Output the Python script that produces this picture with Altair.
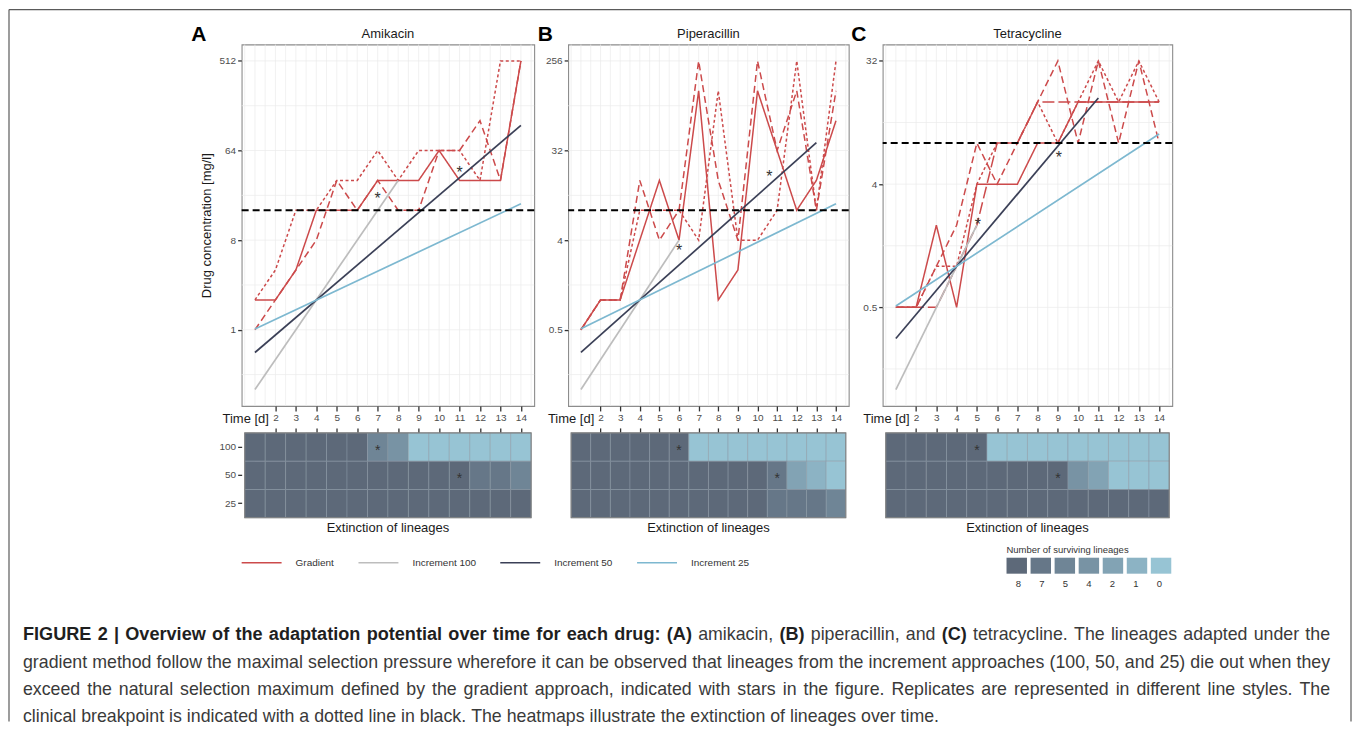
import altair as alt
import pandas as pd

FONT = "Liberation Sans"

# ---------------- data ----------------
days = list(range(1, 15))
replicates = ["r1", "r2", "r3", "r4"]
series_names = ["Gradient", "Increment 100", "Increment 50", "Increment 25"]
series_colors = ["#cc4a4b", "#bdbdbd", "#3b4057", "#7db8d0"]
lineage_levels = [8, 7, 5, 4, 2, 1, 0]
lineage_colors = ["#5d6979", "#667788", "#6f8596", "#7893a4", "#82a3b4", "#8cb3c4", "#97c4d4"]
increment_rows = ["100", "50", "25"]
tick_days = list(range(2, 15))

# A  Amikacin (mg/l per day, gradient replicates)
amik_r1 = [2, 2, 4, 16, 16, 16, 32, 32, 32, 64, 32, 32, 32, 512]
amik_r2 = [1, 2, 4, 8, 32, 16, 32, 16, 16, 64, 64, 128, 32, 512]
amik_r3 = [2, 4, 16, 16, 32, 32, 64, 32, 64, 64, 64, 32, 512, 512]
amik_inc_day = {"Increment 100": [1, 8], "Increment 50": [1, 14], "Increment 25": [1, 14]}
amik_inc_val = {"Increment 100": [0.25, 32], "Increment 50": [0.59, 115], "Increment 25": [1.02, 18.6]}
amik_breakpoint = 16
amik_star_day = [7, 11]
amik_star_val = [22.6, 42]
amik_heat_100 = [8, 8, 8, 8, 8, 8, 5, 4, 0, 0, 0, 0, 0, 0]
amik_heat_50 = [8, 8, 8, 8, 8, 8, 8, 8, 8, 8, 8, 7, 7, 5]
amik_heat_25 = [8, 8, 8, 8, 8, 8, 8, 8, 8, 8, 8, 8, 8, 8]
amik_hstar_day = [7, 11]
amik_hstar_row = ["100", "50"]

# B  Piperacillin
pip_r1 = [0.5, 1, 1, 4, 16, 4, 128, 1, 2, 128, 32, 8, 16, 64]
pip_r2 = [0.5, 1, 1, 16, 4, 8, 256, 16, 4, 256, 32, 128, 8, 128]
pip_r3 = [0.5, 1, 1, 8, 8, 8, 4, 128, 4, 4, 8, 256, 8, 256]
pip_inc_day = {"Increment 100": [1, 6], "Increment 50": [1, 13], "Increment 25": [1, 14]}
pip_inc_val = {"Increment 100": [0.125, 4], "Increment 50": [0.296, 38.4], "Increment 25": [0.512, 9.31]}
pip_breakpoint = 8
pip_star_day = [6, 10.6]
pip_star_val = [3.4, 19]
pip_heat_100 = [8, 8, 8, 8, 8, 8, 0, 0, 0, 0, 0, 0, 0, 0]
pip_heat_50 = [8, 8, 8, 8, 8, 8, 8, 8, 8, 8, 7, 2, 1, 0]
pip_heat_25 = [8, 8, 8, 8, 8, 8, 8, 8, 8, 8, 7, 7, 7, 5]
pip_hstar_day = [6, 11]
pip_hstar_row = ["100", "50"]

# C  Tetracycline
tet_r1 = [0.5, 0.5, 2, 0.5, 4, 4, 4, 8, 8, 16, 16, 16, 16, 16]
tet_r2 = [0.5, 0.5, 1, 2, 8, 4, 8, 16, 32, 8, 32, 8, 32, 8]
tet_r3 = [0.5, 0.5, 1, 1, 4, 8, 8, 16, 8, 16, 32, 16, 32, 16]
tet_r4 = [0.5, 0.5, 0.5, 1, 2, 8, 8, 16, 16, 16, 16, 16, 16, 16]
tet_inc_day = {"Increment 100": [1, 5], "Increment 50": [1, 11], "Increment 25": [1, 14]}
tet_inc_val = {"Increment 100": [0.125, 2], "Increment 50": [0.296, 17.1], "Increment 25": [0.512, 9.31]}
tet_breakpoint = 8
tet_star_day = [5.05, 9.05]
tet_star_val = [2.15, 6.6]
tet_heat_100 = [8, 8, 8, 8, 8, 0, 0, 0, 0, 0, 0, 0, 0, 0]
tet_heat_50 = [8, 8, 8, 8, 8, 8, 8, 8, 8, 4, 2, 0, 0, 0]
tet_heat_25 = [8, 8, 8, 8, 8, 8, 8, 8, 8, 8, 8, 8, 8, 8]
tet_hstar_day = [5, 9]
tet_hstar_row = ["100", "50"]

caption_l1 = [
    ("FIGURE 2 | Overview of the adaptation potential over time for each drug: (A)", True),
    ("amikacin,", False), ("(B)", True), ("piperacillin, and", False), ("(C)", True),
    ("tetracycline. The lineages adapted under the", False),
]
caption_l2 = [("gradient method follow the maximal selection pressure wherefore it can be observed "
               "that lineages from the increment approaches (100, 50, and 25) die out when they", False)]
caption_l3 = [("exceed the natural selection maximum defined by the gradient approach, indicated with "
               "stars in the figure. Replicates are represented in different line styles. The", False)]
caption_l4 = [("clinical breakpoint is indicated with a dotted line in black. The heatmaps illustrate "
               "the extinction of lineages over time.", False)]

# ---------------- helpers ----------------
dummy = pd.DataFrame({"k": [0]})
X_DOM = [0.35, 14.65]
LINE_H = 362
HEAT_H = 85

stroke_scale = alt.Scale(domain=series_names, range=series_colors)
dash_scale = alt.Scale(domain=replicates, range=[[1, 0], [7, 4], [3, 2.5], [12, 4]])
fill_scale = alt.Scale(domain=lineage_levels, range=lineage_colors)
line_legend = alt.Legend(title=None, orient="none", legendX=232, legendY=498, direction="horizontal",
                         columns=4, symbolType="stroke", symbolSize=1600, symbolStrokeWidth=1.6,
                         labelFontSize=10, labelColor="#333333", labelFont=FONT, labelOffset=13,
                         columnPadding=20)


def line_panel(reps, inc_day, inc_val, bp, sd, sv, W, lo, hi, majors, title, letter, letter_x, ytitle):
    xs = alt.Scale(domain=X_DOM, nice=False, zero=False)
    ys = alt.Scale(type="log", base=2, domain=[2 ** lo, 2 ** hi], nice=False)
    xaxis = alt.Axis(values=tick_days, title=None, grid=False, domain=False, tickSize=5, tickWidth=1.3,
                     tickColor="#333333", labelFontSize=10, labelColor="#4d4d4d", labelPadding=2,
                     labelFont=FONT, labelOverlap=False, labelFlush=False)
    yargs = dict(values=[2 ** e for e in majors], format="~g", grid=False, domain=False, tickSize=4,
                 tickWidth=1.3, tickColor="#333333", labelFontSize=10, labelColor="#4d4d4d",
                 labelPadding=2, labelFont=FONT)
    if ytitle:
        yargs.update(title=ytitle, titleFontSize=13, titleFontWeight="normal", titleColor="#1a1a1a",
                     titlePadding=6, titleFont=FONT)
    else:
        yargs.update(title=None)
    yaxis = alt.Axis(**yargs)

    vg = pd.DataFrame({"g": [0.5 * k for k in range(1, 30)]})
    hexp = majors + [e + 1.5 for e in majors] + [majors[0] - 1.5]
    hg = pd.DataFrame({"g": [2 ** e for e in hexp if lo < e < hi]})

    rows = []
    for rep, vals in zip(replicates, reps):
        for d, v in zip(days, vals):
            rows.append({"day": d, "val": v, "rep": rep, "series": "Gradient"})
    red = pd.DataFrame(rows)
    irows = []
    for s in series_names[1:]:
        for d, v in zip(inc_day[s], inc_val[s]):
            irows.append({"day": d, "val": v, "series": s})
    inc = pd.DataFrame(irows)
    stars = pd.DataFrame({"day": sd, "val": sv})

    X = alt.X("day:Q", scale=xs, axis=xaxis)
    Y = alt.Y("val:Q", scale=ys, axis=yaxis)

    layers = [
        alt.Chart(vg).mark_rule(color="#ebebeb", strokeWidth=0.7).encode(x=alt.X("g:Q", scale=xs, axis=xaxis)),
        alt.Chart(hg).mark_rule(color="#ebebeb", strokeWidth=0.7).encode(y=alt.Y("g:Q", scale=ys, axis=yaxis)),
        alt.Chart(red).mark_line(strokeWidth=1.5).encode(
            x=X, y=Y,
            stroke=alt.Stroke("series:N", scale=stroke_scale, legend=line_legend),
            strokeDash=alt.StrokeDash("rep:N", scale=dash_scale, legend=None)),
        alt.Chart(inc).mark_line(strokeWidth=1.7).encode(
            x=X, y=Y, stroke=alt.Stroke("series:N", scale=stroke_scale, legend=line_legend)),
        alt.Chart(pd.DataFrame({"bp": [bp]})).mark_rule(color="black", strokeDash=[7, 4], strokeWidth=1.9)
            .encode(y=alt.Y("bp:Q", scale=ys, axis=yaxis)),
        alt.Chart(stars).mark_text(text="*", fontSize=16, dy=4, color="#333333", font=FONT).encode(x=X, y=Y),
        alt.Chart(dummy).mark_text(text=letter, fontSize=21, fontWeight="bold", color="#000000", font=FONT,
                                   baseline="middle", align="center")
            .encode(x=alt.value(letter_x), y=alt.value(-9)),
        alt.Chart(dummy).mark_text(text=title, fontSize=13, color="#1a1a1a", font=FONT,
                                   baseline="middle", align="center")
            .encode(x=alt.value(W / 2), y=alt.value(-10)),
        alt.Chart(dummy).mark_text(text="Time [d]", fontSize=13, color="#1a1a1a", font=FONT,
                                   baseline="middle", align="right")
            .encode(x=alt.X(datum=1.68, scale=xs, axis=xaxis), y=alt.value(LINE_H + 13)),
    ]
    return alt.layer(*layers).properties(
        width=W, height=LINE_H,
        view=alt.ViewBackground(stroke="#8c8c8c", strokeWidth=1.1),
    )


def heat_panel(h100, h50, h25, hsd, hsr, W, show_y):
    xs = alt.Scale(domain=X_DOM, nice=False, zero=False)
    ysc = alt.Scale(domain=increment_rows, paddingInner=0, paddingOuter=0)
    xaxis = alt.Axis(orient="top", values=tick_days, labels=False, tickSize=5, tickWidth=1.3,
                     tickColor="#333333", domain=False, grid=False, title=None)
    if show_y:
        yaxis = alt.Axis(title=None, tickSize=4, tickWidth=1.3, tickColor="#333333", labelFontSize=10,
                         labelColor="#4d4d4d", labelPadding=2, domain=False, grid=False, labelFont=FONT)
    else:
        yaxis = None
    rows = []
    for r, vals in zip(increment_rows, [h100, h50, h25]):
        for d, n in zip(days, vals):
            rows.append({"day": d, "row": r, "n": n})
    df = pd.DataFrame(rows)
    hs = pd.DataFrame({"day": hsd, "row": hsr})
    Y = alt.Y("row:N", scale=ysc, axis=yaxis)
    cells = alt.Chart(df).transform_calculate(x0="datum.day - 0.5", x1="datum.day + 0.5").mark_rect(
        stroke="#8a97a4", strokeWidth=0.5).encode(
        x=alt.X("x0:Q", scale=xs, axis=xaxis), x2="x1:Q", y=Y,
        fill=alt.Fill("n:O", scale=fill_scale, legend=None))
    outline = alt.Chart(dummy).mark_rect(fillOpacity=0, stroke="#7f7f7f", strokeWidth=1.1).encode(
        x=alt.X(datum=0.5, scale=xs, axis=xaxis), x2=alt.X2(datum=14.5),
        y=alt.value(0), y2=alt.value(HEAT_H))
    st = alt.Chart(hs).mark_text(text="*", fontSize=14, dy=4, color="#333333", font=FONT).encode(
        x=alt.X("day:Q", scale=xs, axis=xaxis), y=Y)
    label = alt.Chart(dummy).mark_text(text="Extinction of lineages", fontSize=13, color="#1a1a1a",
                                       font=FONT, baseline="middle", align="center").encode(
        x=alt.value(W / 2), y=alt.value(HEAT_H + 10))
    return alt.layer(cells, outline, st, label).properties(width=W, height=HEAT_H)


lineA = line_panel([amik_r1, amik_r2, amik_r3], amik_inc_day, amik_inc_val, amik_breakpoint,
                   amik_star_day, amik_star_val, 293, -2.55, 9.55, [0, 3, 6, 9], "Amikacin", "A", -43,
                   "Drug concentration [mg/l]")
lineB = line_panel([pip_r1, pip_r2, pip_r3], pip_inc_day, pip_inc_val, pip_breakpoint,
                   pip_star_day, pip_star_val, 281, -3.55, 8.55, [-1, 2, 5, 8], "Piperacillin", "B", -23, None)
lineC = line_panel([tet_r1, tet_r2, tet_r3, tet_r4], tet_inc_day, tet_inc_val, tet_breakpoint,
                   tet_star_day, tet_star_val, 290, -3.4, 5.4, [-1, 2, 5], "Tetracycline", "C", -24, None)

heatA = heat_panel(amik_heat_100, amik_heat_50, amik_heat_25, amik_hstar_day, amik_hstar_row, 293, True)
heatB = heat_panel(pip_heat_100, pip_heat_50, pip_heat_25, pip_hstar_day, pip_hstar_row, 281, False)
heatC = heat_panel(tet_heat_100, tet_heat_50, tet_heat_25, tet_hstar_day, tet_hstar_row, 290, False)

SPACER_W = 199
spacer = alt.Chart(dummy).mark_point(opacity=0, size=1).encode(
    x=alt.value(100), y=alt.value(5)).properties(width=SPACER_W, height=10)

# ---------------- caption (Helvetica/Arial metrics, justified like the original) ----------------
REG = {' ': 278, '!': 278, '(': 333, ')': 333, ',': 278, '-': 333, '.': 278, ':': 278, ';': 278, '|': 260,
       'A': 667, 'B': 667, 'C': 722, 'D': 722, 'E': 667, 'F': 611, 'G': 778, 'H': 722, 'I': 278, 'J': 500,
       'K': 667, 'L': 556, 'M': 833, 'N': 722, 'O': 778, 'P': 667, 'Q': 778, 'R': 722, 'S': 667, 'T': 611,
       'U': 722, 'V': 667, 'W': 944, 'X': 667, 'Y': 667, 'Z': 611,
       'a': 556, 'b': 556, 'c': 500, 'd': 556, 'e': 556, 'f': 278, 'g': 556, 'h': 556, 'i': 222, 'j': 222,
       'k': 500, 'l': 222, 'm': 833, 'n': 556, 'o': 556, 'p': 556, 'q': 556, 'r': 333, 's': 500, 't': 278,
       'u': 556, 'v': 500, 'w': 722, 'x': 500, 'y': 500, 'z': 500}
BOLD = {' ': 278, '!': 333, '(': 333, ')': 333, ',': 278, '-': 333, '.': 278, ':': 333, ';': 333, '|': 280,
        'A': 722, 'B': 722, 'C': 722, 'D': 722, 'E': 667, 'F': 611, 'G': 778, 'H': 722, 'I': 278, 'J': 556,
        'K': 722, 'L': 611, 'M': 833, 'N': 722, 'O': 778, 'P': 667, 'Q': 778, 'R': 722, 'S': 667, 'T': 611,
        'U': 722, 'V': 667, 'W': 944, 'X': 667, 'Y': 667, 'Z': 611,
        'a': 556, 'b': 611, 'c': 556, 'd': 611, 'e': 556, 'f': 333, 'g': 611, 'h': 611, 'i': 278, 'j': 278,
        'k': 556, 'l': 278, 'm': 889, 'n': 611, 'o': 611, 'p': 611, 'q': 611, 'r': 389, 's': 556, 't': 333,
        'u': 611, 'v': 556, 'w': 778, 'x': 556, 'y': 556, 'z': 500}


def units(s, bold=False):
    t = BOLD if bold else REG
    return sum(t.get(c, 556) for c in s)


CAP_FS = min(18.0, 1305.0 / (units(caption_l2[0][0]) / 1000.0))
BOLD_FS = CAP_FS * 1.02
# the bottom panel (legends, caption, frame) is drawn from the origin of the first cell of
# the heatmap row, which sits at screen (8, 432)
OX, OY = 8, 432


def lx(screen_x):
    return screen_x - OX


def ly(screen_y):
    return screen_y - OY


def layout_line(segments, y, justify_to):
    words = []
    for seg, b in segments:
        for w in seg.split(" "):
            words.append((w, b))
    widths = [units(w, b) * (BOLD_FS if b else CAP_FS) / 1000.0 for w, b in words]
    space = units(" ") * CAP_FS / 1000.0
    natural = sum(widths) + space * (len(words) - 1)
    gap = space + (justify_to - natural) / (len(words) - 1) if justify_to else space
    out, xx = [], lx(22)
    for (w, b), wd in zip(words, widths):
        out.append({"word": w, "px": xx, "py": y, "bold": b})
        xx += wd + gap
    return out


cap_rows = (layout_line(caption_l1, ly(634), 1309) + layout_line(caption_l2, ly(662), 1309)
            + layout_line(caption_l3, ly(689.5), 1309) + layout_line(caption_l4, ly(717), None))
cap_df = pd.DataFrame(cap_rows)


def cap_layer(bold):
    return alt.Chart(cap_df).transform_filter(
        "datum.bold" if bold else "!datum.bold").mark_text(
        align="left", baseline="middle", font=FONT, fontSize=BOLD_FS if bold else CAP_FS,
        fontWeight="bold" if bold else "normal", color="#1f1f1f" if bold else "#3a3a3a").encode(
        x=alt.X("px:Q", scale=None, axis=None), y=alt.Y("py:Q", scale=None, axis=None), text="word:N")


def text_mark(s, x, y, size, weight="normal", color="#333333", align="left"):
    return alt.Chart(dummy).mark_text(text=s, align=align, baseline="middle", fontSize=size,
                                      fontWeight=weight, color=color, font=FONT).encode(
        x=alt.value(x), y=alt.value(y))


def rule(x1, x2, y1, y2):
    return alt.Chart(dummy).mark_rule(color="#5a5a5a", strokeWidth=1.2).encode(
        x=alt.value(x1), x2=alt.value(x2), y=alt.value(y1), y2=alt.value(y2))


bottom_layers = [cap_layer(True), cap_layer(False),
                 rule(lx(8), lx(1352), ly(8), ly(8)), rule(lx(8), lx(8), ly(8), ly(721)),
                 rule(lx(1352), lx(1352), ly(8), ly(721))]

leg_df = pd.DataFrame({"n": lineage_levels})
band = alt.Scale(domain=lineage_levels, range=[lx(1007), lx(1172)], paddingInner=0.15, paddingOuter=0)
bottom_layers += [
    alt.Chart(leg_df).mark_rect().encode(
        x=alt.X("n:O", scale=band, axis=None), y=alt.value(ly(557)), y2=alt.value(ly(573)),
        fill=alt.Fill("n:O", scale=fill_scale, legend=None)),
    alt.Chart(leg_df).mark_text(fontSize=9.5, color="#333333", baseline="middle", font=FONT).encode(
        x=alt.X("n:O", scale=band, axis=None), y=alt.value(ly(583)), text="n:N"),
    text_mark("Number of surviving lineages", lx(1007), ly(549), 9.5, "normal", "#333333"),
]
bottom = alt.layer(*bottom_layers).resolve_scale(x="independent", y="independent").properties(
    width=SPACER_W, height=HEAT_H)

chart = alt.concat(
    spacer, lineA, lineB, lineC,
    bottom, heatA, heatB, heatC,
    columns=4, spacing={"row": 27, "column": 34}, bounds="flush", align="each",
    padding={"left": 0, "top": 0, "right": 0, "bottom": 0},
).configure(font=FONT, padding={"left": 0, "top": 0, "right": 0, "bottom": 0},
            view=alt.ViewConfig(stroke=None))

chart.save("out.html", embed_options={"renderer": "svg", "actions": False})
